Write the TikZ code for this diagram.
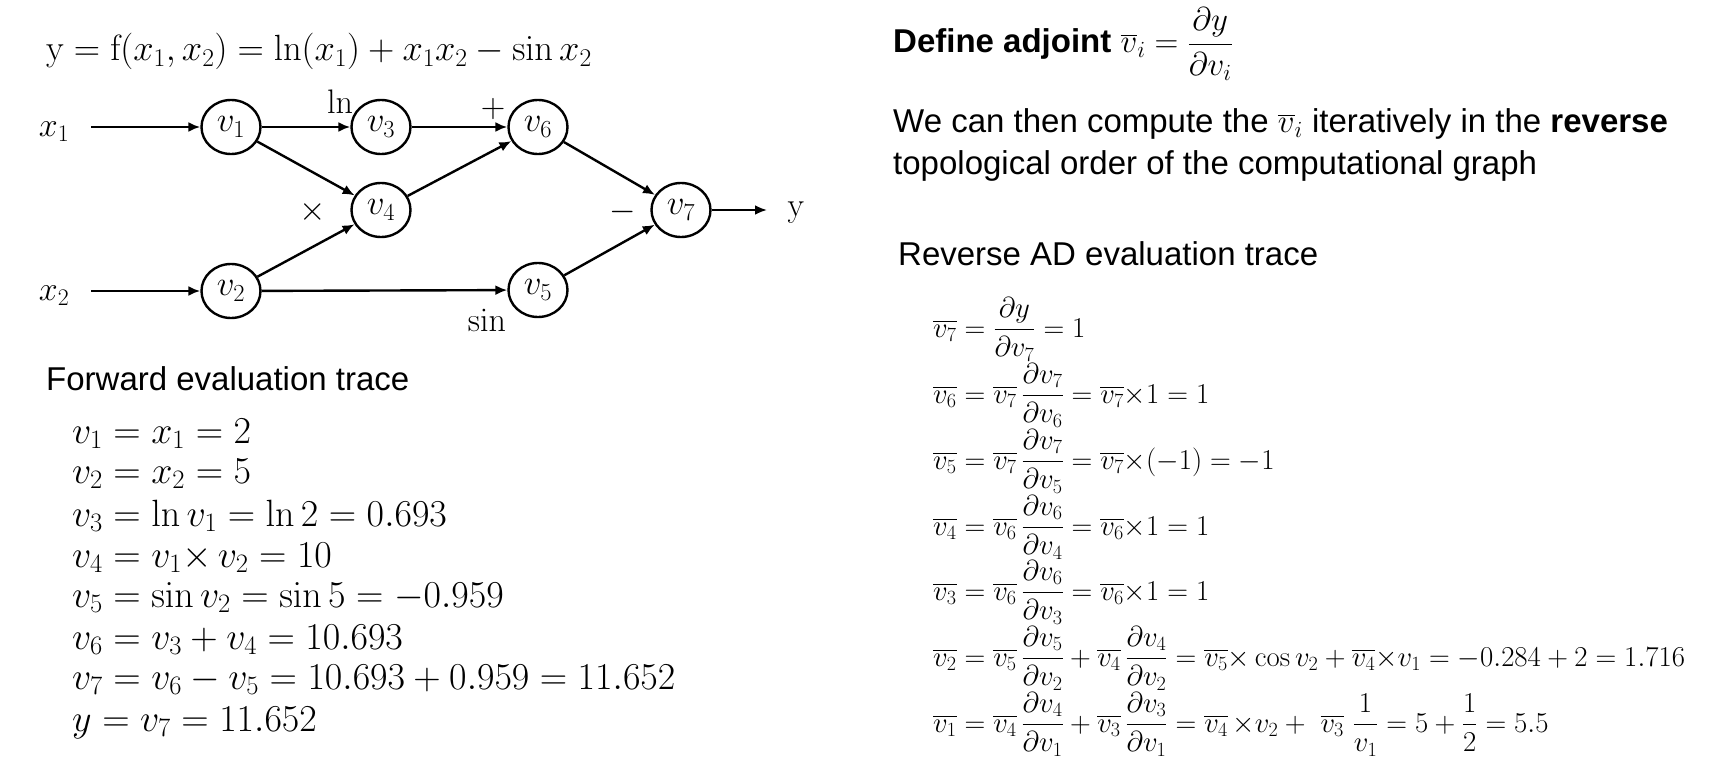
\RequirePackage{fix-cm}
\documentclass[tikz,border=0pt]{standalone}
\usepackage{amsmath}
\usepackage[no-math]{fontspec}
\setsansfont{Liberation Sans}
\usetikzlibrary{arrows.meta,shapes.geometric}
\tikzset{
  vnode/.style={draw, ellipse, line width=2.4pt, minimum width=59pt, minimum height=54pt, inner sep=0pt, font=\fontsize{35}{40}\selectfont},
  conn/.style={line width=2.4pt, -{Latex[length=12pt,width=10pt]}},
  glabel/.style={font=\fontsize{34}{40}\selectfont, inner sep=0pt},
  txt/.style={font=\sffamily\fontsize{33}{39}\selectfont, anchor=base west, inner sep=0pt},
  titleeq/.style={font=\fontsize{36.5}{42}\selectfont, anchor=base west, inner sep=0pt},
  feq/.style={font=\fontsize{38}{44}\selectfont, anchor=base west, inner sep=0pt},
  req/.style={font=\fontsize{28.8}{34}\selectfont, anchor=base west, inner sep=0pt},
}
\begin{document}
\begin{tikzpicture}[x=1pt,y=-1pt]
\useasboundingbox (0,0) rectangle (1720,762);
% title equation
\node[titleeq] (title) at (46,61) {$\mathrm{y} = \mathrm{f}(x_1, x_2) = \ln(x_1) + x_1x_2 - \sin x_2$};
% graph nodes
\node[vnode] (v1) at (231,127) {$v_1$};
\node[vnode] (v3) at (381,127) {$v_3$};
\node[vnode] (v6) at (538,127) {$v_6$};
\node[vnode] (v4) at (381,210) {$v_4$};
\node[vnode] (v7) at (681,210) {$v_7$};
\node[vnode] (v2) at (231,291) {$v_2$};
\node[vnode] (v5) at (538,290) {$v_5$};
% inputs / output
\node[glabel] (x1) at (54,132) {$x_1$};
\node[glabel] (x2) at (54,296) {$x_2$};
\coordinate (x1s) at (91,127);
\coordinate (x2s) at (91,291);
\coordinate (ye) at (767,210);
\node[glabel, anchor=base] (yl) at (796,216) {$\mathrm{y}$};
% operation labels
\node[glabel] (lnl) at (340,102) {$\ln$};
\node[glabel] (plusl) at (493,109) {$+$};
\node[glabel] (timesl) at (313,212) {$\times$};
\node[glabel] (minusl) at (623,212) {$-$};
\node[glabel] (sinl) at (487,320) {$\sin$};
% connectors
\draw[conn] (x1s) -- (v1);
\draw[conn] (x2s) -- (v2);
\draw[conn] (v1) -- (v3);
\draw[conn] (v3) -- (v6);
\draw[conn] (v1) -- (v4);
\draw[conn] (v2) -- (v4);
\draw[conn] (v4) -- (v6);
\draw[conn] (v2) -- (v5);
\draw[conn] (v6) -- (v7);
\draw[conn] (v5) -- (v7);
\draw[conn] (v7) -- (ye);
% forward trace
\node[txt] (fwd) at (46,390) {Forward evaluation trace};
\node[feq] (f1) at (72,443) {$v_1 = x_1 = 2$};
\node[feq] (f2) at (72,483) {$v_2 = x_2 = 5$};
\node[feq] (f3) at (72,526) {$v_3 = \ln v_1 = \ln 2 = 0.693$};
\node[feq] (f4) at (72,567) {$v_4 = v_1{\times}\,v_2 = 10$};
\node[feq] (f5) at (72,607) {$v_5 = \sin v_2 = \sin 5 = -0.959$};
\node[feq] (f6) at (72,649) {$v_6 = v_3 + v_4 = 10.693$};
\node[feq] (f7) at (72,689) {$v_7 = v_6 - v_5 = 10.693 + 0.959 = 11.652$};
\node[feq] (f8) at (72,731) {$y = v_7 = 11.652$};
% right side text
\node[txt] (def) at (893,53) {\textbf{Define adjoint} $\overline{v}_i = \dfrac{\partial y}{\partial v_i}$};
\node[txt] (we1) at (893,133) {We can then compute the $\overline{v}_i$ iteratively in the \textbf{reverse}};
\node[txt] (we2) at (893,175) {topological order of the computational graph};
\node[txt] (rev) at (898,265) {Reverse AD evaluation trace};
% reverse trace
\node[req] (r7) at (933,337) {$\overline{v_7} = \dfrac{\partial y}{\partial v_7} = 1$};
\node[req] (r6) at (933,403) {$\overline{v_6} = \overline{v_7}\,\dfrac{\partial v_7}{\partial v_6} = \overline{v_7}{\times}1 = 1$};
\node[req] (r5) at (933,469) {$\overline{v_5} = \overline{v_7}\,\dfrac{\partial v_7}{\partial v_5} = \overline{v_7}{\times}(-1) = -1$};
\node[req] (r4) at (933,535) {$\overline{v_4} = \overline{v_6}\,\dfrac{\partial v_6}{\partial v_4} = \overline{v_6}{\times}1 = 1$};
\node[req] (r3) at (933,600) {$\overline{v_3} = \overline{v_6}\,\dfrac{\partial v_6}{\partial v_3} = \overline{v_6}{\times}1 = 1$};
\node[req] (r2) at (933,666) {$\overline{v_2} = \overline{v_5}\,\dfrac{\partial v_5}{\partial v_2} + \overline{v_4}\,\dfrac{\partial v_4}{\partial v_2} = \overline{v_5}{\times}\cos v_2 + \overline{v_4}{\times}v_1 = -0.284 + 2 = 1.716$};
\node[req] (r1) at (933,732) {$\overline{v_1} = \overline{v_4}\,\dfrac{\partial v_4}{\partial v_1} + \overline{v_3}\,\dfrac{\partial v_3}{\partial v_1} = \overline{v_4}\,{\times}v_2 + \ \overline{v_3}\ \dfrac{1}{v_1} = 5 + \dfrac{1}{2} = 5.5$};
\end{tikzpicture}
\end{document}
